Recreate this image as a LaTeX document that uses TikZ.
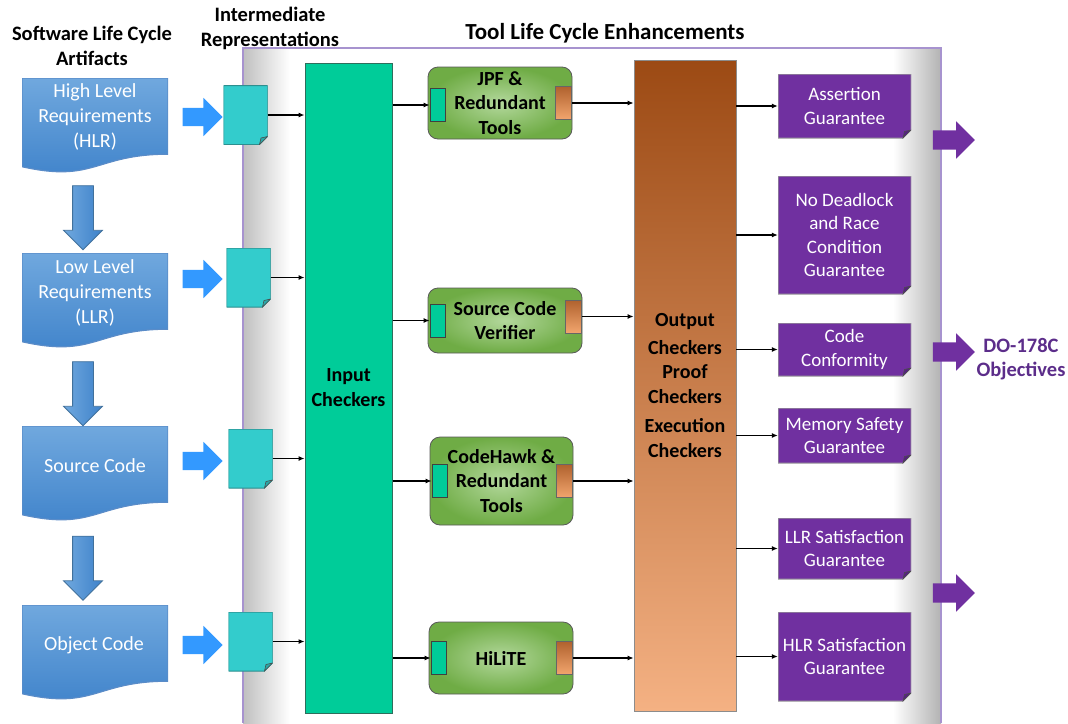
\documentclass[tikz,border=0pt]{standalone}
\usepackage{fontspec}
\setmainfont{Carlito}
\usepackage{xcolor}
\usepackage{tikz}
\usetikzlibrary{shapes.arrows, arrows.meta}

\definecolor{docTop}{HTML}{70A8DE}
\definecolor{docBot}{HTML}{3E82CA}
\definecolor{docLine}{HTML}{5A8CC8}
\definecolor{docDark}{HTML}{41719C}
\definecolor{arrowBlue}{HTML}{3399FF}
\definecolor{irTeal}{HTML}{33CCCC}
\definecolor{irFold}{HTML}{29A8A8}
\definecolor{irLine}{HTML}{2D8F8F}
\definecolor{inGreen}{HTML}{00CC99}
\definecolor{inLine}{HTML}{2E6E5C}
\definecolor{toolIn}{HTML}{B3D89C}
\definecolor{toolOut}{HTML}{6FAC45}
\definecolor{cuDark}{HTML}{B0622E}
\definecolor{cuLight}{HTML}{F2A56E}
\definecolor{outTop}{HTML}{9C4A14}
\definecolor{outBot}{HTML}{F4B183}
\definecolor{guarPurple}{HTML}{7030A0}
\definecolor{guarFold}{HTML}{55237E}
\definecolor{doPurple}{HTML}{5C2D8A}
\definecolor{panelLine}{HTML}{A793CF}

\begin{document}
\begin{tikzpicture}[x=1pt, y=-1pt,
        title/.style={align=center, font=\bfseries\fontsize{20.5}{25}\selectfont},
        conn/.style={-{Latex[length=6pt, width=5pt]}, line width=1.1pt},
        artifact/.style={minimum width=146pt, minimum height=95pt, inner sep=0pt,
            path picture={
                \shadedraw[top color=docTop, bottom color=docBot, draw=docLine, line width=1.2pt]
                    (path picture bounding box.north west) -- (path picture bounding box.north east)
                    -- ([yshift=-76.2pt]path picture bounding box.north east)
                    .. controls ([xshift=-73pt, yshift=-76.2pt]path picture bounding box.north east)
                    and ([xshift=-73pt, yshift=-105.2pt]path picture bounding box.north east)
                    .. ([yshift=-88.7pt]path picture bounding box.north west) -- cycle;}},
        arttext/.style={text=white, align=center, font=\fontsize{20}{25}\selectfont},
        downarr/.style={single arrow, rotate=-90, inner sep=0pt, inner ysep=10pt,
            single arrow head extend=9pt, minimum height=64pt,
            left color=docTop, right color=docBot, draw=docDark, line width=0.8pt},
        rightarr/.style={single arrow, inner sep=0pt, inner ysep=9pt,
            single arrow head extend=10pt, minimum height=40pt, fill=arrowBlue},
        bigarr/.style={single arrow, inner sep=0pt, inner ysep=9.5pt,
            single arrow head extend=9pt, minimum height=42pt, fill=guarPurple},
        folddoc/.style n args={3}{inner sep=2pt, align=center,
            path picture={
                \filldraw[fill=#1, draw=#3, line width=1pt]
                    (path picture bounding box.north west) -- (path picture bounding box.north east)
                    -- ([yshift=8pt]path picture bounding box.south east)
                    -- ([xshift=-8pt]path picture bounding box.south east)
                    -- (path picture bounding box.south west) -- cycle;
                \filldraw[fill=#2, draw=black!70, line width=0.6pt]
                    ([yshift=8pt]path picture bounding box.south east)
                    -- ([xshift=-8pt]path picture bounding box.south east)
                    -- ([xshift=-6.5pt, yshift=6.5pt]path picture bounding box.south east) -- cycle;}},
        irdoc/.style={folddoc={irTeal}{irFold}{irLine}, minimum width=44pt, minimum height=59pt},
        guar/.style={folddoc={guarPurple}{guarFold}{black!40}, minimum width=133pt,
            text=white, font=\fontsize{19}{23.3}\selectfont},
        inbox/.style={fill=inGreen, draw=inLine, line width=1pt, minimum width=87pt,
            minimum height=650pt, align=center, font=\bfseries\fontsize{20}{25}\selectfont},
        tool/.style={rounded corners=10pt, draw=black!65, line width=0.8pt,
            inner color=toolIn, outer color=toolOut, align=center,
            font=\bfseries\fontsize{20}{24.5}\selectfont},
        inport/.style={fill=inGreen, draw=black!75, line width=0.8pt, inner sep=0pt,
            minimum width=15pt, minimum height=33pt},
        outport/.style={top color=cuDark, bottom color=cuLight, draw=black!60, line width=0.8pt,
            inner sep=0pt, minimum width=16pt, minimum height=33pt},
        outbox/.style={top color=outTop, bottom color=outBot, draw=black!45, line width=0.8pt,
            minimum width=102pt, minimum height=651pt, align=center,
            font=\bfseries\fontsize{20}{24.5}\selectfont},
        dotext/.style={text=doPurple, align=center, font=\bfseries\fontsize{20.5}{24}\selectfont}]

    \path[use as bounding box] (0,0) rectangle (1068,723);

    % tool life cycle panel
    \fill[white] (243,48) rectangle (941,723);
    \shade[left color=black!25, right color=white] (243,48) rectangle (290,723);
    \shade[left color=white, right color=black!30] (893,48) rectangle (941,723);
    \draw[panelLine, line width=1.2pt] (243,723) -- (243,48) -- (941,48) -- (941,723);

    % titles
    \node[title] (ttlsw) at (92,45.5) {Software Life Cycle\\Artifacts};
    \node[title] (ttlir) at (270,28.5) {Intermediate\\Representations};
    \node[title, font=\bfseries\fontsize{23}{28}\selectfont] (ttltool) at (605,33) {Tool Life Cycle Enhancements};

    % software life cycle artifacts
    \node[artifact] (hlr) at (95,125.5) {};
    \node[arttext] (hlrtxt) at (95,117) {High Level\\Requirements\\(HLR)};
    \node[artifact] (llr) at (95,300.5) {};
    \node[arttext] (llrtxt) at (95,293) {Low Level\\Requirements\\(LLR)};
    \node[artifact] (src) at (95,473.5) {};
    \node[arttext] (srctxt) at (95,466) {Source Code};
    \node[artifact] (obj) at (95,652.5) {};
    \node[arttext] (objtxt) at (94,645) {Object Code};

    \node[downarr] (hlrllr) at (83,212.5) {};
    \node[downarr] (llrsrc) at (83,388.5) {};
    \node[downarr] (srcobj) at (83,563) {};

    \node[rightarr] (hlrto) at (198,117) {};
    \node[rightarr] (llrto) at (198,279) {};
    \node[rightarr] (srcto) at (198,461) {};
    \node[rightarr] (objto) at (198,645) {};

    % intermediate representations
    \node[irdoc] (ir1) at (245.5,115) {};
    \node[irdoc] (ir2) at (248.5,277.5) {};
    \node[irdoc] (ir3) at (250.5,458.5) {};
    \node[irdoc] (ir4) at (250.5,641.5) {};

    \node[inbox] (inp) at (348.5,388) {Input\\Checkers};

    \draw[conn] (ir1) -- (ir1 -| inp.west);
    \draw[conn] (ir2) -- (ir2 -| inp.west);
    \draw[conn] (ir3) -- (ir3 -| inp.west);
    \draw[conn] (ir4) -- (ir4 -| inp.west);

    % verification tools
    \node[tool, minimum width=144pt, minimum height=72pt] (jpf) at (500,103) {JPF \&\\Redundant\\Tools};
    \node[inport, anchor=west] (jpfin) at ([xshift=2pt, yshift=-2pt]jpf.west) {};
    \node[outport, anchor=east] (jpfout) at ([xshift=-0.5pt]jpf.east) {};

    \node[tool, minimum width=154pt, minimum height=65pt] (scv) at (505,320.5) {Source Code\\Verifier};
    \node[inport, anchor=west] (scvin) at ([xshift=2pt]scv.west) {};
    \node[outport, anchor=east] (scvout) at ([xshift=-0.5pt, yshift=4pt]scv.east) {};

    \node[tool, minimum width=143pt, minimum height=88pt] (chk) at (501.5,481) {CodeHawk \&\\Redundant\\Tools};
    \node[inport, anchor=west] (chkin) at ([xshift=2pt]chk.west) {};
    \node[outport, anchor=east] (chkout) at ([xshift=-0.5pt]chk.east) {};

    \node[tool, minimum width=144pt, minimum height=72pt] (hil) at (501,658) {HiLiTE};
    \node[inport, anchor=west] (hilin) at ([xshift=2pt]hil.west) {};
    \node[outport, anchor=east] (hilout) at ([xshift=-0.5pt]hil.east) {};

    \draw[conn] (inp.east |- jpfin) -- (jpfin.west);
    \draw[conn] (inp.east |- scvin) -- (scvin.west);
    \draw[conn] (inp.east |- chkin) -- (chkin.west);
    \draw[conn] (inp.east |- hilin) -- (hilin.west);

    \node[outbox] (outc) at (685,385.5) {Output\\[3pt]Checkers\\Proof\\Checkers\\[5pt]Execution\\Checkers};

    \draw[conn] (jpfout.east) -- (jpfout.east -| outc.west);
    \draw[conn] (scvout.east) -- (scvout.east -| outc.west);
    \draw[conn] (chkout.east) -- (chkout.east -| outc.west);
    \draw[conn] (hilout.east) -- (hilout.east -| outc.west);

    % guarantees
    \node[guar, minimum height=64pt] (gas) at (844.5,106) {Assertion\\Guarantee};
    \node[guar, minimum height=118pt] (gdl) at (844.5,235) {No Deadlock\\and Race\\Condition\\Guarantee};
    \node[guar, minimum height=53pt] (gcc) at (844.5,349.5) {Code\\Conformity};
    \node[guar, minimum height=55pt] (gms) at (844.5,435.5) {Memory Safety\\Guarantee};
    \node[guar, minimum height=61pt] (gllr) at (844.5,548.5) {LLR Satisfaction\\Guarantee};
    \node[guar, minimum height=89pt] (ghlr) at (844.5,656.5) {HLR Satisfaction\\Guarantee};

    \draw[conn] (outc.east |- gas.west) -- (gas.west);
    \draw[conn] (outc.east |- gdl.west) -- (gdl.west);
    \draw[conn] (outc.east |- gcc.west) -- (gcc.west);
    \draw[conn] (outc.east |- gms.west) -- (gms.west);
    \draw[conn] (outc.east |- gllr.west) -- (gllr.west);
    \draw[conn] (outc.east |- ghlr.west) -- (ghlr.west);

    \node[bigarr] (objup) at (949,140) {};
    \node[bigarr] (objmid) at (949,352) {};
    \node[bigarr] (objlow) at (949,593) {};

    \node[dotext] (do) at (1021,359) {DO-178C\\Objectives};
\end{tikzpicture}
\end{document}
